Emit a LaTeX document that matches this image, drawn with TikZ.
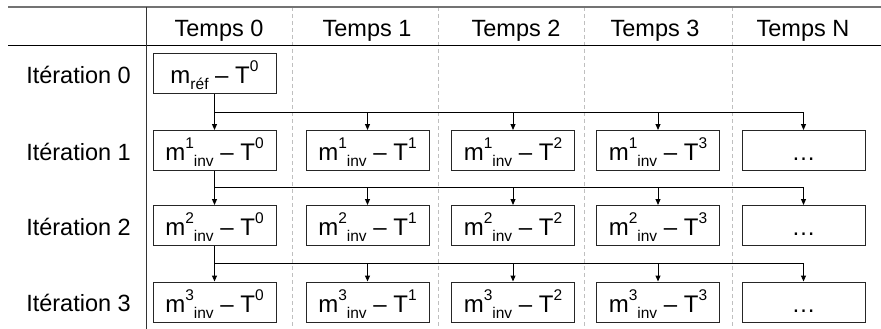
\documentclass[tikz,border=0pt]{standalone}
\usepackage{fontspec}
\setmainfont{Liberation Sans}
\usetikzlibrary{arrows.meta}
\newcommand\mysup[1]{\raisebox{0.5em}{\fontsize{15.5}{15.5}\selectfont #1}}
\newcommand\mysub[1]{\raisebox{-0.27em}{\fontsize{15.5}{15.5}\selectfont #1}}
\begin{document}
\begin{tikzpicture}[x=1pt,y=-1pt,
  box/.style={draw=black!85, line width=1pt, minimum width=123pt, minimum height=40pt,
    inner sep=0pt, text height=20pt, text depth=0pt, font=\fontsize{24}{24}\selectfont},
  lbl/.style={anchor=base east, inner sep=0pt, font=\fontsize{23.5}{24}\selectfont},
  hdr/.style={anchor=base, inner sep=0pt, font=\fontsize{23.5}{24}\selectfont},
  arr/.style={-{Triangle[length=6pt,width=5pt]}, line width=1pt},
  bus/.style={line width=1pt},
  dashline/.style={draw=black!25, line width=0.8pt, dash pattern=on 4pt off 3pt},
  ]
\useasboundingbox (0,0) rectangle (881,329);
% grid
\foreach \x in {292,438,584,732} \draw[dashline] (\x,7) -- (\x,329);
\draw[line width=1.6pt, black!55] (8,7) -- (881,7);
\draw[line width=1pt, black] (8,46) -- (881,46);
\draw[line width=1pt, black!80] (146,7) -- (146,329);
% headers
\node[hdr] (h0) at (219,36.7) {Temps 0};
\node[hdr] (h1) at (367,36.7) {Temps 1};
\node[hdr] (h2) at (516,36.7) {Temps 2};
\node[hdr] (h3) at (655,36.7) {Temps 3};
\node[hdr] (h4) at (803,36.7) {Temps N};
% row labels
\node[lbl] (r0) at (131,83.3) {Itération 0};
\node[lbl] (r1) at (131,160.3) {Itération 1};
\node[lbl] (r2) at (131,235.3) {Itération 2};
\node[lbl] (r3) at (131,311.8) {Itération 3};
% boxes
\node[box] (b00) at (214.5,73.5) {m\mysub{réf} – T\mysup{0}};
\foreach \r/\y in {1/150.5,2/225.5,3/302} {
  \node[box] (b\r0) at (214.5,\y) {m\mysup{\r}\mysub{inv} – T\mysup{0}};
  \node[box] (b\r1) at (367.5,\y) {m\mysup{\r}\mysub{inv} – T\mysup{1}};
  \node[box] (b\r2) at (513,\y) {m\mysup{\r}\mysub{inv} – T\mysup{2}};
  \node[box] (b\r3) at (658,\y) {m\mysup{\r}\mysub{inv} – T\mysup{3}};
  \node[box] (b\r4) at (803.5,\y) {…};
}
% connectors
\foreach \p/\r/\yb in {0/1/112.7,1/2/187.7,2/3/263.3} {
  \coordinate (j\r) at (214.5,\yb);
  \coordinate (e\r) at (803.5,\yb);
  \draw[bus] (b\p0.south) -- (j\r) -- (e\r);
  \foreach \c in {0,...,4} \draw[arr] (b\r\c.north |- j\r) -- (b\r\c.north);
}
\end{tikzpicture}
\end{document}
